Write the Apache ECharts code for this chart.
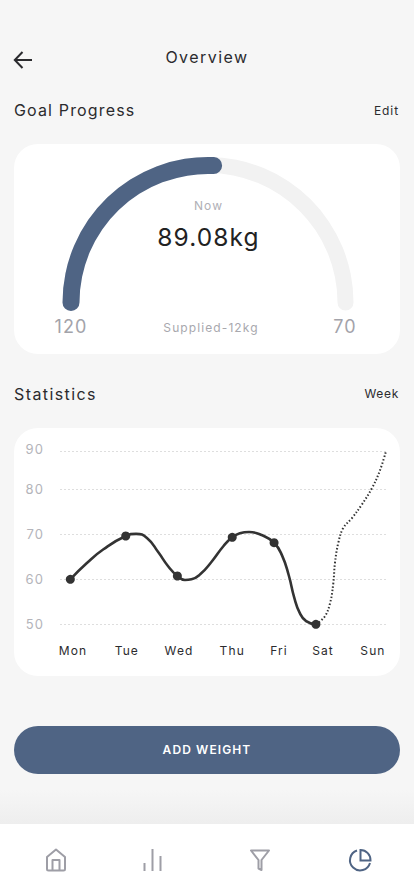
<!DOCTYPE html>
<html><head><meta charset="utf-8">
<script src="https://cdn.jsdelivr.net/npm/echarts@6/dist/echarts.min.js"></script>
<style>
html,body{margin:0;padding:0;width:414px;height:896px;overflow:hidden;background:#f6f6f6;font-family:Inter,sans-serif;color:#2b2b2e}
.a{position:absolute;white-space:nowrap;line-height:1}
.card{position:absolute;left:14px;width:386px;background:#fff;border-radius:24px}
#chart{position:absolute;left:0;top:0;width:414px;height:896px;letter-spacing:1.1px}
</style></head><body>
<svg class="a" style="left:12px;top:49px" width="22" height="22" viewBox="0 0 22 22" fill="none" stroke="#2b2b2e" stroke-width="2"><path d="M20 11H3M10.500 3 2.800 11l7.700 8"/></svg>
<div class="a" style="left:0;width:414px;text-align:center;top:49px;font-size:16px;font-weight:400;letter-spacing:1.450px">Overview</div>
<div class="a" style="left:14px;top:102px;font-size:16px;font-weight:400;letter-spacing:1.150px">Goal Progress</div>
<div class="a" style="right:15px;top:105px;font-size:12px;letter-spacing:.9px">Edit</div>
<div class="card" style="top:144px;height:210px"></div>
<div class="a" style="left:14px;top:386px;font-size:16px;font-weight:400;letter-spacing:1.400px">Statistics</div>
<div class="a" style="right:15px;top:388px;font-size:12px;letter-spacing:.7px">Week</div>
<div class="card" style="top:428px;height:248px"></div>
<div class="a" style="left:14px;top:726px;width:386px;height:48px;border-radius:24px;background:#4f6484;color:#fff;font-size:12px;font-weight:600;letter-spacing:1.100px;text-align:center;line-height:48px">ADD WEIGHT</div>
<div class="a" style="left:0;top:790px;width:414px;height:34px;background:linear-gradient(#f6f6f600,#eeeeee)"></div>
<div class="a" style="left:0;top:824px;width:414px;height:72px;background:#fff"></div>
<svg class="a" style="left:0;top:824px" width="414" height="72" viewBox="0 0 414 72" fill="none" stroke-width="2">
<g stroke="#9e9ea6" stroke-linejoin="round">
<path d="M47 45V33L56 25.500l9 7.500V45a1.500 1.500 0 0 1-1.500 1.500h-15A1.500 1.500 0 0 1 47 45Z"/><path d="M52.500 46V36h7v10"/>
<path d="M144.500 47V39M152.500 47V25M160.500 47V32"/>
<path d="M251 26.500h18l-7.500 9.500V46l-3-1.500V36Z"/></g>
<g stroke="#4f6484"><path d="M357 26.500a10.200 10.200 0 1 0 13 12.500"/><path d="M360.500 26a10 10 0 0 1 10 10.500H360.500Z"/></g>
</svg>
<div id="chart"></div>
<script>
// Gauge
const gaugeProgress = 51.3;
const nowLabel = 'Now', nowValue = '89.08kg', startLabel = '120', endLabel = '70', suppliedLabel = 'Supplied-12kg';
// Statistics
const dayNames = ['Mon','Tue','Wed','Thu','Fri','Sat','Sun'];
const dayLabelPos = [0.24,1.23,2.19,3.17,4.03,4.84,5.76];
const markerX = [0.19,1.21,2.16,3.17,3.94,4.71];
const markerY = [60,69.62,60.73,69.33,68.13,50];
// the recorded curve, read along its length from the picture
const solidX = [0.19,0.49,0.80,1.21,1.40,1.60,1.81,1.99,2.16,2.30,2.42,2.58,2.79,3.01,3.17,3.31,3.48,3.71,3.94,4.09,4.21,4.31,4.41,4.53,4.71];
const solidY = [60,63.56,66.67,69.62,70.1,69.2,66.0,62.9,60.73,59.85,60,61.1,63.91,67.4,69.33,70.22,70.51,69.84,68.13,65.2,60.9,56.0,52.6,50.7,50];
const dottedX = [4.71,4.87,4.97,5.03,5.06,5.12,5.21,5.37,5.55,5.74,5.88,6];
const dottedY = [50,51.69,54.67,59.11,63.56,68,71.33,73.56,76.51,80.26,84.63,90];
const yTicks = [50,60,70,80,90];
// the reference's top band (80-90) is drawn narrower than the others
const yMap = v => v <= 80 ? v : 80 + (v - 80) * 38 / 45;
const pairs = (xs, ys) => xs.map((x, i) => [x, yMap(ys[i])]);
const ink = '#333333';
const chart = echarts.init(document.getElementById('chart'), null, {renderer:'svg', width:414, height:896});
const txt = (x, y, text, size, fill, weight) => ({type:'text', x, y, style:{text, fontFamily:'Inter', fontSize:size, fill, fontWeight:weight||400, textAlign:'center', textVerticalAlign:'middle'}});
chart.setOption({
  animation:false,
  textStyle:{fontFamily:'Inter'},
  graphic:[
    txt(71,326,startLabel,18,'#a3a3aa'),
    txt(345,326,endLabel,18,'#a3a3aa'),
    txt(211,327,suppliedLabel,12,'#a8a8ae')
  ],
  grid:{left:60,top:451.300,width:326,height:173},
  xAxis:{type:'value',min:0,max:6,axisLine:{show:false},axisTick:{show:false},splitLine:{show:false},
    axisLabel:{customValues:dayLabelPos,margin:20,fontSize:12,color:'#2b2b2e',fontFamily:'Inter',hideOverlap:false,
      formatter:v=>dayNames[dayLabelPos.indexOf(v)]||''}},
  yAxis:{type:'value',min:50,max:yMap(90),axisLine:{show:false},
    axisTick:{show:false,customValues:yTicks.map(yMap)},
    axisLabel:{customValues:yTicks.map(yMap),margin:16,fontSize:13,color:'#b4b4ba',fontFamily:'Inter',
      formatter:v=>{const t=yTicks[yTicks.map(yMap).indexOf(v)];return t===90?'{top|'+t+'}':'{base|'+t+'}';},
      rich:{top:{fontSize:13,color:'#b4b4ba',fontFamily:'Inter',padding:[0,0,5,0]},base:{fontSize:13,color:'#b4b4ba',fontFamily:'Inter',padding:[0,0,1,0]}}},
    splitLine:{show:true,lineStyle:{color:'#dedede',width:1,type:[2,2]}}},
  series:[
   {type:'gauge',center:[208,302.500],radius:145.500,startAngle:180,endAngle:0,min:0,max:100,
    axisLine:{roundCap:true,lineStyle:{width:16,color:[[1,'#f2f2f2']]}},
    progress:{show:true,roundCap:true,width:17,itemStyle:{color:'#4f6484'}},
    pointer:{show:false},axisTick:{show:false},splitLine:{show:false},axisLabel:{show:false},
    title:{offsetCenter:[0.500,-97],fontSize:12,color:'#b0b0b6',fontFamily:'Inter'},
    detail:{offsetCenter:[0.500,-66],fontSize:24.500,color:'#222222',fontFamily:'Inter',fontWeight:400,formatter:()=>nowValue},
    data:[{value:gaugeProgress,name:nowLabel}]},
   {type:'line',data:pairs(dottedX,dottedY),smooth:0.4,showSymbol:false,symbol:'none',
    lineStyle:{color:ink,width:2,type:[1.500,2],cap:'butt'},z:2},
   {type:'line',data:pairs(solidX,solidY),smooth:0.5,showSymbol:false,symbol:'none',
    lineStyle:{color:ink,width:2.600},z:3},
   {type:'scatter',data:pairs(markerX,markerY),symbol:'circle',symbolSize:9,itemStyle:{color:ink,opacity:1},z:4}
  ]
});
</script>
</body></html>
